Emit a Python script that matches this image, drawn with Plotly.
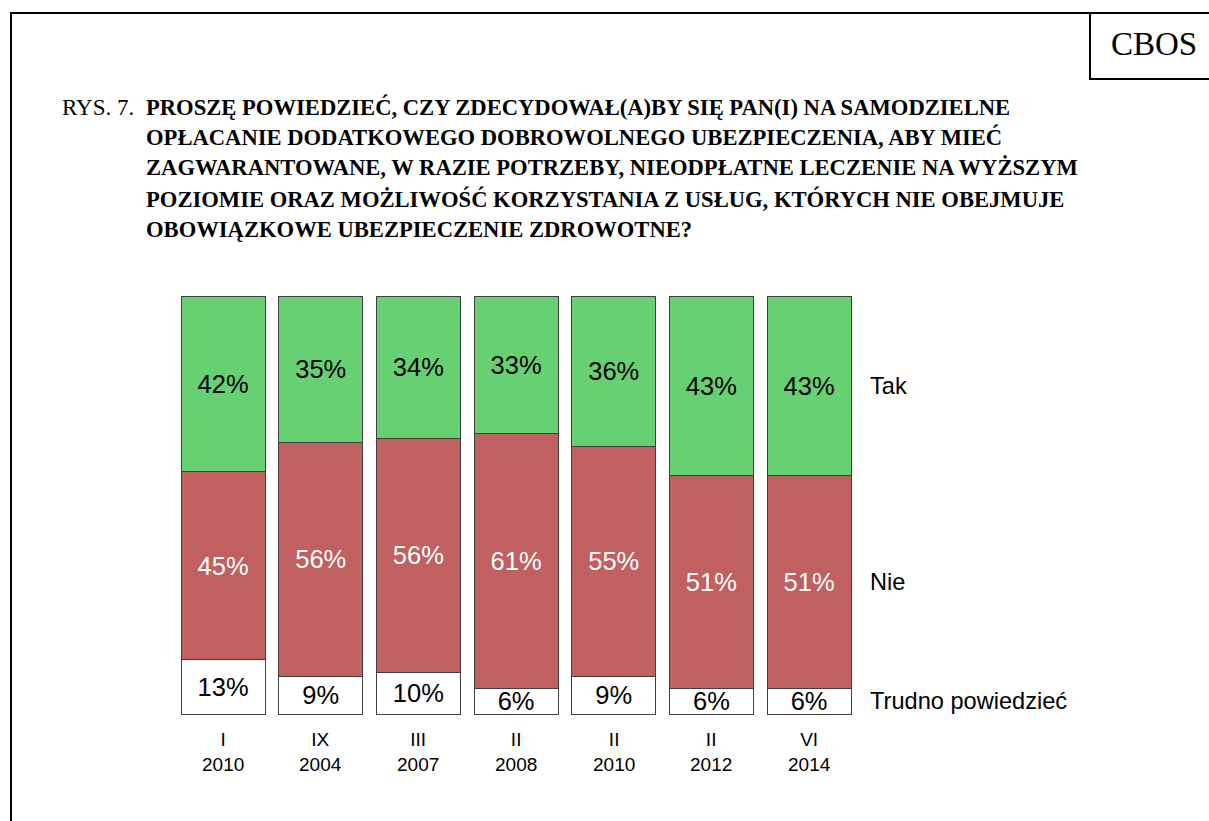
import plotly.graph_objects as go

# ---- data ----
months = ["I", "IX", "III", "II", "II", "II", "VI"]
years = ["2010", "2004", "2007", "2008", "2010", "2012", "2014"]
trudno = [13, 9, 10, 6, 9, 6, 6]
nie = [45, 56, 56, 61, 55, 51, 51]
tak = [42, 35, 34, 33, 36, 43, 43]
series_names = ["Trudno powiedzieć", "Nie", "Tak"]

W, H = 1209, 821
cats = [f"{m} {y}" for m, y in zip(months, years)]

def px_x(x):
    return x / W

def px_y(y):
    return 1 - y / H

GREEN = "#66D073"
RED = "#C06060"
SANS = "Liberation Sans, Arial, sans-serif"
SERIF = "Liberation Serif, Times New Roman, serif"

fig = go.Figure()
series = [
    (series_names[0], trudno, "#FFFFFF", "#000000"),
    (series_names[1], nie, RED, "#FFFFFF"),
    (series_names[2], tak, GREEN, "#000000"),
]
for name, vals, color, tcolor in series:
    fig.add_trace(go.Bar(
        x=cats, y=vals, name=name,
        marker=dict(color=color, line=dict(color="#404040", width=1)),
        width=0.86,
        text=[f"{v}%" for v in vals],
        textposition="inside",
        insidetextanchor="middle",
        textangle=0,
        cliponaxis=False,
        textfont=dict(family=SANS, size=25.5, color=tcolor),
        hoverinfo="skip",
    ))

annotations = []
# x-axis category labels (month over year)
for c, m, y in zip(cats, months, years):
    annotations.append(dict(x=c, xref="x", y=px_y(751.5), yref="paper",
                            text=f"{m}<br>{y}",
                            showarrow=False, xanchor="center", yanchor="middle",
                            align="center",
                            font=dict(family=SANS, size=19, color="#000")))

# right-hand series labels, aligned to the last bar's segments
last = [trudno[-1], nie[-1], tak[-1]]
cum = 0
for name, v in zip(series_names, last):
    mid = cum + v / 2
    cum += v
    annotations.append(dict(x=px_x(868), xref="paper", y=mid, yref="y", text=name,
                            showarrow=False, xanchor="left", yanchor="middle",
                            font=dict(family=SANS, size=23.6, color="#000")))

# title
annotations.append(dict(x=px_x(60), xref="paper", y=px_y(107), yref="paper",
                        text="RYS. 7.", showarrow=False, xanchor="left", yanchor="middle",
                        font=dict(family=SERIF, size=23, color="#000")))
title_lines = [
    "PROSZĘ POWIEDZIEĆ, CZY ZDECYDOWAŁ(A)BY SIĘ PAN(I) NA SAMODZIELNE",
    "OPŁACANIE DODATKOWEGO DOBROWOLNEGO UBEZPIECZENIA, ABY MIEĆ",
    "ZAGWARANTOWANE, W RAZIE POTRZEBY, NIEODPŁATNE LECZENIE NA WYŻSZYM",
    "POZIOMIE ORAZ MOŻLIWOŚĆ KORZYSTANIA Z USŁUG, KTÓRYCH NIE OBEJMUJE",
    "OBOWIĄZKOWE UBEZPIECZENIE ZDROWOTNE?",
]
for i, line in enumerate(title_lines):
    annotations.append(dict(x=px_x(144), xref="paper", y=px_y(107 + 30.5 * i), yref="paper",
                            text=f"<b>{line}</b>", showarrow=False, xanchor="left",
                            yanchor="middle",
                            font=dict(family=SERIF, size=22.6, color="#000")))

# CBOS
annotations.append(dict(x=px_x(1154), xref="paper", y=px_y(44), yref="paper",
                        text="CBOS", showarrow=False, xanchor="center", yanchor="middle",
                        font=dict(family=SERIF, size=33, color="#000")))

shapes = [
    dict(type="rect", xref="paper", yref="paper", x0=px_x(11), x1=1.05,
         y0=-0.05, y1=px_y(13), line=dict(color="#000", width=2)),
    dict(type="rect", xref="paper", yref="paper", x0=px_x(1090), x1=1.05,
         y0=px_y(79), y1=px_y(13), line=dict(color="#000", width=2)),
]

# y axis: 0..100 spans px 714..296 (4.18 px per unit); small pad below/above
pad = 0.5
unit = (714 - 296) / 100
fig.update_layout(
    width=W, height=H,
    margin=dict(l=0, r=0, t=0, b=0),
    barmode="stack",
    paper_bgcolor="white", plot_bgcolor="white",
    showlegend=False,
    uniformtext=dict(minsize=25.5, mode="show"),
    xaxis=dict(domain=[px_x(174.2), px_x(857.9)], showticklabels=False,
               showgrid=False, zeroline=False, showline=False, ticks="",
               range=[-0.5, 6.5]),
    yaxis=dict(domain=[px_y(714 + pad * unit), px_y(296 - pad * unit)],
               range=[-pad, 100 + pad], visible=False),
    annotations=annotations,
    shapes=shapes,
)

fig.write_html("out.html")
